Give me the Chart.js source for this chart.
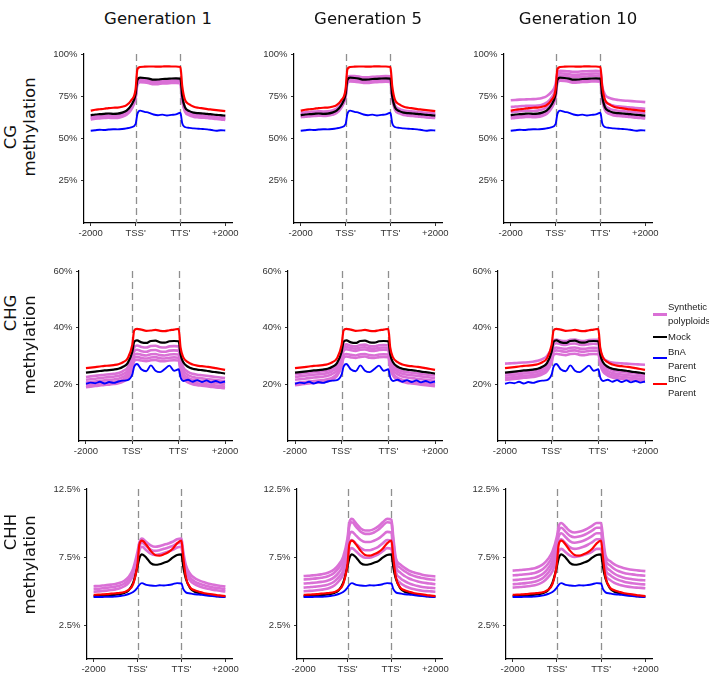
<!DOCTYPE html>
<html>
<head>
<meta charset="utf-8">
<script src="https://cdn.jsdelivr.net/npm/chart.js@4.4.0/dist/chart.umd.min.js"></script>
<style>
body { margin:0; width:709px; height:673px; overflow:hidden; background:#fff; position:relative; font-family:"DejaVu Sans", sans-serif; }
canvas { position:absolute; }
.title { position:absolute; font-size:16.5px; line-height:20px; color:#111; transform:translateX(-50%); white-space:nowrap; }
.rowlab { position:absolute; font-size:16.5px; line-height:20px; color:#111; transform:translate(-50%,-50%) rotate(-90deg); white-space:nowrap; }
.leg { position:absolute; font-family:"Liberation Sans", sans-serif; font-size:9.5px; line-height:14px; color:#222; white-space:nowrap; }
.key { position:absolute; width:14px; height:3px; }
</style>
</head>
<body>
<script>
// x positions: 0..10 upstream (-2000..TSS'), 10..20 scaled gene body, 20..30 downstream
const xPos = [0,1,2,3,4,5,6,7,8,9,10, 10.4, 11,12,13,14,15,16,17,18,19,20, 20.4, 21,22,23,24,25,26,27,28,29,30];
const xTickValues = [0, 10, 20, 30];
const xTickLabels = ['-2000', "TSS'", "TTS'", '+2000'];
const generations = ['Generation 1', 'Generation 5', 'Generation 10'];
const contexts = ['CG', 'CHG', 'CHH'];
const yMax = [100, 60, 12.5];
const yTicks = [[25, 50, 75, 100], [20, 40, 60], [2.5, 7.5, 12.5]];
const yTickLabels = [['25%', '50%', '75%', '100%'], ['20%', '40%', '60%'], ['2.5%', '7.5%', '12.5%']];
const seriesNames = ['Synthetic\npolyploids', 'Mock', 'BnA\nParent', 'BnC\nParent'];

// ---- CG ----
const cgMock = [63.8,64.2,64.4,64.6,64.8,64.6,64.7,65.3,66.5,69.5,76, 84.5, 86,85.8,85.4,84.8,84.9,85.2,85.3,85.5,85.6,85.4, 75, 68.5,66.2,65.3,65,64.8,64.6,64.3,64,63.8,63.5];
const cgBnA = [54.6,54.9,55.2,55,55.3,55.5,55.4,55.6,56,56.6,58.5, 64.5, 66.5,65.8,65.2,64.2,63.8,64.1,63.6,64,64.3,65.2, 59, 56.8,56.3,56,55.8,55.6,55.4,55,54.6,54.9,54.7];
const cgBnC = [66.5,67,67.3,67.6,68,68.2,68.3,68.8,69.8,72.5,79, 91, 92.3,92.5,92.6,92.6,92.5,92.6,92.7,92.6,92.6,92.3, 81, 73,70.2,68.8,68.2,67.8,67.4,67.1,66.8,66.5,66.2];
const cgSynGen1 = [
  [63.4,63.8,64,64.2,64.4,64.2,64.3,64.9,66.1,69.1,75.6, 84.1, 85.6,85.4,85,84.4,84.5,84.8,84.9,85.1,85.2,85, 74.6, 68.1,65.8,64.9,64.6,64.4,64.2,63.9,63.6,63.4,63.1],
  [62.7,63.1,63.3,63.5,63.7,63.5,63.6,64.2,65.4,68.4,75, 83.3, 84.7,84.5,84.1,83.5,83.6,83.9,84,84.2,84.3,84.1, 73.9, 67.4,65.1,64.2,63.9,63.7,63.5,63.2,62.9,62.7,62.4],
  [62,62.4,62.6,62.8,63,62.8,62.9,63.5,64.7,67.7,74.3, 82.6, 84,83.8,83.4,82.8,82.9,83.2,83.3,83.5,83.6,83.4, 73.2, 66.7,64.4,63.5,63.2,63,62.8,62.5,62.2,62,61.7],
  [61.3,61.7,61.9,62.1,62.3,62.1,62.2,62.8,64,67,73.6, 81.9, 83.3,83.1,82.7,82.1,82.2,82.5,82.6,82.8,82.9,82.7, 72.5, 66,63.7,62.8,62.5,62.3,62.1,61.8,61.5,61.3,61]
];
const cgSynGen5 = [
  [65.2,65.5,65.7,65.9,66.1,66,66.1,66.6,67.7,70.6,77, 85.6, 87,86.9,86.6,86.2,86.2,86.5,86.6,86.8,86.9,86.8, 76.5, 69.8,67.5,66.6,66.2,66,65.8,65.5,65.2,65,64.8],
  [64.5,64.8,65,65.2,65.4,65.3,65.4,65.9,67,69.9,76.2, 84.8, 86.2,86.1,85.8,85.4,85.4,85.7,85.8,86,86.1,86, 75.7, 69,66.7,65.8,65.4,65.2,65,64.7,64.4,64.2,64],
  [63.4,63.7,63.9,64.1,64.3,64.2,64.3,64.8,65.9,68.8,75.2, 83.5, 84.7,84.6,84.3,83.9,83.9,84.2,84.3,84.5,84.6,84.5, 74.5, 67.9,65.6,64.7,64.3,64.1,63.9,63.6,63.3,63.1,62.9],
  [62.6,62.9,63.1,63.3,63.5,63.4,63.5,64,65.1,68,74.4, 82.6, 83.7,83.6,83.3,82.9,82.9,83.2,83.3,83.5,83.6,83.5, 73.6, 67,64.8,63.9,63.5,63.3,63.1,62.8,62.5,62.3,62.1]
];
const cgSynGen10 = [
  [72.6,72.8,73,73.1,73.2,73.3,73.5,74,75,77.3,82, 88.8, 90,89.9,89.7,89.4,89.5,89.7,89.8,89.9,90,89.8, 81, 76,74,73.2,72.8,72.5,72.3,72.1,71.9,71.7,71.5],
  [68.6,68.9,69.1,69.2,69.4,69.3,69.5,70,71.2,73.8,79.5, 87.2, 88.6,88.4,88.1,87.7,87.8,88,88.2,88.4,88.5,88.3, 78.5, 72.5,70.3,69.4,69,68.7,68.5,68.3,68,67.8,67.6],
  [65.6,65.9,66.1,66.3,66.5,66.3,66.5,67.1,68.3,71.2,77.5, 85.8, 87.3,87.1,86.7,86.2,86.3,86.6,86.7,86.9,87,86.8, 76.5, 70,67.7,66.8,66.4,66.2,66,65.7,65.4,65.2,64.9],
  [63,63.4,63.6,63.8,64,63.8,63.9,64.5,65.7,68.7,75.3, 83.8, 85.2,85,84.6,84,84.1,84.4,84.5,84.7,84.8,84.6, 74.2, 67.8,65.5,64.6,64.3,64.1,63.9,63.6,63.3,63.1,62.8],
  [61.8,62.2,62.4,62.6,62.8,62.6,62.7,63.3,64.5,67.5,74.2, 82.8, 84.2,84,83.6,83,83.1,83.4,83.5,83.7,83.8,83.6, 73.2, 66.8,64.5,63.6,63.3,63.1,62.9,62.6,62.3,62.1,61.8]
];

// ---- CHG ----
const chgMock = [24.1,24.3,24.5,24.7,24.9,25,25.2,25.5,26.2,27.5,31.5, 35, 35.5,34.8,34.6,35.3,35.4,34.8,34.7,35.2,35.3,35.2, 30.5, 27.8,26.2,25.5,25.2,25,24.8,24.5,24.3,24.1,23.8];
const chgBnA = [20.2,20.6,20.4,20.9,20.3,20.8,20.5,21,21.3,21.5,23.5, 26.2, 27.2,25.2,24.6,26.7,24.8,24.3,25.4,26.6,24.8,25.3, 22.5, 21.2,21.6,20.9,21.5,20.8,21.4,20.7,21.2,20.6,21];
const chgBnC = [25.7,25.9,26.1,26.3,26.5,26.6,26.8,27.1,27.8,29.2,34, 39, 39.6,39.3,38.9,39,39.2,38.9,38.8,39.1,39.3,39.6, 33, 29.5,27.8,27,26.6,26.4,26.2,26,25.7,25.4,25.1];
const chgSynGen1 = [
  [22.6,22.8,23,23.2,23.4,23.5,23.7,24,24.7,26,30, 33, 33.7,33.2,33,33.5,33.6,33.1,33,33.4,33.5,33.4, 29, 26,24.4,23.7,23.4,23.2,23,22.8,22.6,22.4,22.2],
  [21.6,21.8,22,22.2,22.4,22.5,22.7,23,23.6,24.9,28.8, 31.6, 32.2,31.7,31.5,32,32.1,31.6,31.5,31.9,32,31.9, 27.8, 24.9,23.3,22.6,22.3,22.1,21.9,21.7,21.5,21.3,21.1],
  [20.6,20.8,21,21.2,21.4,21.5,21.7,22,22.6,23.8,27.6, 30.3, 30.8,30.4,30.2,30.6,30.7,30.3,30.2,30.5,30.6,30.5, 26.6, 23.8,22.3,21.6,21.3,21.1,20.9,20.7,20.5,20.3,20.1],
  [19.7,19.9,20.1,20.3,20.5,20.6,20.8,21.1,21.7,22.9,26.6, 29.3, 29.7,29.3,29.1,29.5,29.6,29.2,29.1,29.4,29.5,29.4, 25.6, 22.9,21.4,20.7,20.4,20.2,20,19.8,19.6,19.4,19.2],
  [19,19.2,19.4,19.6,19.8,19.9,20.1,20.4,21,22.1,25.7, 28.3, 28.7,28.4,28.2,28.5,28.6,28.2,28.2,28.4,28.5,28.4, 24.8, 22.1,20.7,20,19.7,19.5,19.3,19.1,18.9,18.8,18.6]
];
const chgSynGen5 = [
  [23.5,23.7,23.9,24.1,24.3,24.4,24.6,24.9,25.6,26.9,30.5, 33.5, 34.1,33.6,33.4,33.9,34,33.5,33.4,33.8,33.9,33.8, 29.5, 26.8,25.3,24.6,24.3,24.1,23.9,23.7,23.5,23.3,23.1],
  [22.6,22.8,23,23.2,23.4,23.5,23.7,24,24.7,26,29.6, 32.6, 33.2,32.8,32.6,33,33.1,32.7,32.6,32.9,33,32.9, 28.7, 26,24.5,23.7,23.4,23.2,23,22.8,22.6,22.4,22.2],
  [21.6,21.8,22,22.2,22.4,22.5,22.7,23,23.7,25,28.7, 31.8, 32.4,32,31.8,32.2,32.3,31.9,31.8,32.1,32.2,32.1, 27.9, 25.1,23.5,22.8,22.4,22.2,22,21.8,21.6,21.4,21.2],
  [20.4,20.6,20.8,21,21.2,21.3,21.5,21.8,22.4,23.7,27.2, 30.2, 30.7,30.4,30.2,30.6,30.7,30.3,30.2,30.5,30.6,30.5, 26.6, 23.9,22.3,21.6,21.2,21,20.8,20.6,20.4,20.2,20],
  [19.7,19.9,20.1,20.3,20.5,20.6,20.8,21.1,21.7,22.9,26.4, 29.3, 29.8,29.5,29.3,29.7,29.8,29.4,29.3,29.6,29.7,29.6, 25.8, 23.1,21.6,20.9,20.5,20.3,20.1,19.9,19.7,19.5,19.3]
];
const chgSynGen10 = [
  [27.3,27.4,27.5,27.6,27.7,27.8,28,28.3,28.9,30,32.8, 35.2, 35.8,35.4,35.3,35.7,35.8,35.4,35.3,35.6,35.7,35.7, 31.8, 29.4,28.2,27.7,27.5,27.4,27.3,27.2,27.1,27,26.9],
  [23.8,24,24.2,24.4,24.6,24.7,24.9,25.2,25.9,27.2,30.8, 33.9, 34.5,34.1,33.9,34.3,34.4,34,33.9,34.2,34.3,34.2, 29.9, 27.1,25.6,24.9,24.6,24.4,24.2,24,23.8,23.6,23.5],
  [23,23.2,23.4,23.6,23.8,23.9,24.1,24.4,25.1,26.3,29.7, 32.5, 33,32.7,32.5,32.9,33,32.6,32.5,32.8,32.9,32.8, 28.8, 26.2,24.7,24,23.7,23.5,23.3,23.1,22.9,22.8,22.7],
  [22.2,22.4,22.6,22.8,23,23.1,23.3,23.6,24.2,25.4,28.8, 31.5, 32,31.7,31.5,31.9,32,31.6,31.5,31.8,31.9,31.8, 27.9, 25.3,23.9,23.2,22.9,22.7,22.5,22.3,22.1,22,21.9],
  [21.5,21.7,21.9,22.1,22.3,22.4,22.6,22.9,23.5,24.6,27.8, 30.4, 30.8,30.5,30.3,30.7,30.8,30.4,30.3,30.6,30.7,30.6, 27, 24.5,23.1,22.4,22.1,21.9,21.7,21.5,21.3,21.2,21.1]
];

// ---- CHH ----
const chhMock = [4.62,4.63,4.65,4.67,4.7,4.73,4.78,4.86,5.05,5.6,6.8, 7.4, 7.7,7.45,7.05,6.93,6.97,7.08,7.2,7.45,7.65,7.7, 6.8, 5.9,5.2,4.95,4.85,4.76,4.7,4.66,4.63,4.6,4.58];
const chhBnA = [4.55,4.56,4.56,4.58,4.58,4.6,4.63,4.68,4.78,4.92,5.25, 5.45, 5.58,5.45,5.4,5.38,5.42,5.4,5.44,5.5,5.58,5.55, 5.15, 4.9,4.82,4.76,4.74,4.7,4.66,4.63,4.6,4.57,4.55];
const chhBnC = [4.72,4.73,4.75,4.77,4.8,4.83,4.86,4.93,5.08,5.5,7, 8.4, 8.7,8.4,7.95,7.65,7.6,7.7,7.85,8.1,8.5,8.7, 7.5, 6,5.25,5.05,4.95,4.85,4.8,4.75,4.7,4.66,4.62];
const chhSynGen1 = [
  [5.35,5.37,5.4,5.43,5.47,5.52,5.6,5.75,6.05,6.65,7.9, 8.55, 8.85,8.6,8.35,8.25,8.3,8.4,8.5,8.62,8.8,8.85, 7.9, 6.9,6.25,5.95,5.78,5.66,5.56,5.48,5.42,5.37,5.32],
  [5.15,5.17,5.2,5.23,5.27,5.32,5.4,5.55,5.85,6.4,7.6, 8.25, 8.55,8.3,8.05,7.95,8,8.1,8.2,8.32,8.5,8.55, 7.6, 6.6,5.98,5.7,5.55,5.44,5.35,5.28,5.23,5.18,5.13],
  [4.95,4.97,5,5.03,5.07,5.12,5.2,5.35,5.62,6.15,7.3, 7.95, 8.25,8,7.75,7.65,7.7,7.8,7.9,8.02,8.2,8.25, 7.3, 6.35,5.75,5.5,5.35,5.24,5.16,5.1,5.05,5,4.96]
];
const chhSynGen5 = [
  [6.1,6.12,6.15,6.18,6.22,6.28,6.4,6.6,6.95,7.5,8.9, 10, 10.3,9.95,9.6,9.45,9.45,9.55,9.75,10.05,10.3,10.25, 9, 7.4,6.95,6.7,6.5,6.38,6.28,6.2,6.14,6.1,6.07],
  [5.85,5.87,5.9,5.93,5.97,6.03,6.15,6.35,6.7,7.25,8.6, 9.75, 10.05,9.7,9.35,9.2,9.2,9.3,9.5,9.8,10.05,10, 8.7, 7.15,6.7,6.45,6.25,6.12,6.02,5.95,5.89,5.85,5.82],
  [5.55,5.57,5.6,5.63,5.67,5.72,5.83,6.02,6.35,6.9,8.2, 9.1, 9.35,9.05,8.75,8.6,8.6,8.7,8.85,9.1,9.35,9.3, 8.1, 6.8,6.35,6.1,5.92,5.8,5.7,5.63,5.58,5.54,5.5],
  [5.25,5.27,5.3,5.33,5.37,5.42,5.52,5.7,6.02,6.5,7.8, 8.5, 8.75,8.45,8.15,8,8,8.1,8.25,8.5,8.75,8.7, 7.6, 6.4,5.95,5.72,5.56,5.45,5.36,5.3,5.26,5.23,5.2],
  [4.98,5,5.02,5.05,5.09,5.14,5.24,5.41,5.72,6.2,7.3, 7.95, 8.15,7.9,7.6,7.45,7.45,7.55,7.7,7.92,8.15,8.1, 7.1, 6,5.6,5.38,5.24,5.14,5.07,5.02,4.99,4.97,4.95]
];
const chhSynGen10 = [
  [6.5,6.52,6.55,6.58,6.62,6.68,6.8,7,7.35,7.9,9, 9.75, 10,9.7,9.4,9.3,9.35,9.45,9.6,9.8,10,10, 9, 7.6,7.2,6.95,6.8,6.7,6.62,6.56,6.52,6.49,6.46],
  [6.15,6.17,6.2,6.23,6.27,6.33,6.45,6.65,7,7.55,8.7, 9.4, 9.65,9.35,9.05,8.95,9,9.1,9.25,9.45,9.65,9.65, 8.65, 7.3,6.88,6.62,6.45,6.35,6.27,6.22,6.18,6.15,6.12],
  [5.8,5.82,5.85,5.88,5.92,5.98,6.1,6.3,6.65,7.2,8.35, 9, 9.25,8.95,8.65,8.55,8.6,8.7,8.85,9.05,9.25,9.25, 8.3, 6.95,6.52,6.27,6.1,6,5.92,5.87,5.83,5.8,5.78],
  [5.5,5.52,5.55,5.58,5.62,5.68,5.8,6,6.33,6.85,7.95, 8.6, 8.8,8.5,8.2,8.1,8.15,8.25,8.4,8.6,8.8,8.8, 7.9, 6.6,6.18,5.95,5.8,5.7,5.62,5.57,5.53,5.5,5.48],
  [5.25,5.27,5.3,5.33,5.37,5.42,5.52,5.7,6,6.45,7.4, 7.9, 8.1,7.85,7.6,7.5,7.55,7.65,7.75,7.9,8.1,8.1, 7.3, 6.2,5.82,5.6,5.47,5.38,5.32,5.28,5.25,5.23,5.2]
];

const mockByRow = [cgMock, chgMock, chhMock];
const bnaByRow = [cgBnA, chgBnA, chhBnA];
const bncByRow = [cgBnC, chgBnC, chhBnC];
const synByRow = [
  [cgSynGen1, cgSynGen5, cgSynGen10],
  [chgSynGen1, chgSynGen5, chgSynGen10],
  [chhSynGen1, chhSynGen5, chhSynGen10]
];

const colors = { syn: '#DA70D6', mock: '#000000', bna: '#0000FF', bnc: '#FF0000' };

// panel placement (chart area edges, px)
const rowTop = [54, 271, 489];
const rowBottom = [223, 441, 659];
const rowLeft = [[84, 294, 504], [79, 288, 498], [87, 297, 506]];
const colRight = [232, 442, 652];
const YW = 44, PADT = 12, PADR = 34, XH = 26;

Chart.defaults.font.family = '"Liberation Sans", Arial, sans-serif';
Chart.defaults.font.size = 9.5;

// dashed TSS'/TTS' markers
const bodyEdges = {
  id: 'bodyEdges',
  beforeDatasetsDraw(chart) {
    const { ctx, chartArea, scales } = chart;
    ctx.save();
    ctx.strokeStyle = '#8f8f8f';
    ctx.lineWidth = 1.3;
    ctx.setLineDash([7, 4]);
    [xTickValues[1], xTickValues[2]].forEach(v => {
      const x = Math.round(scales.x.getPixelForValue(v)) + 0.5;
      ctx.beginPath();
      ctx.moveTo(x, chartArea.top);
      ctx.lineTo(x, chartArea.bottom);
      ctx.stroke();
    });
    ctx.restore();
  }
};

function toPoints(arr) {
  if (arr.length !== xPos.length) throw new Error('bad series length ' + arr.length);
  return xPos.map((x, i) => ({ x: x, y: arr[i] }));
}

function line(arr, color, width) {
  return {
    data: toPoints(arr),
    borderColor: color,
    borderWidth: width,
    pointRadius: 0,
    fill: false,
    cubicInterpolationMode: 'monotone'
  };
}

function makePanel(r, c) {
  const L = rowLeft[r][c], R = colRight[c], T = rowTop[r], B = rowBottom[r];
  const cv = document.createElement('canvas');
  cv.width = YW + (R - L) + PADR;
  cv.height = PADT + (B - T) + XH;
  cv.style.left = (L - YW) + 'px';
  cv.style.top = (T - PADT) + 'px';
  document.body.appendChild(cv);

  // first dataset is drawn on top
  const datasets = [
    line(bncByRow[r], colors.bnc, 2.2),
    line(bnaByRow[r], colors.bna, 1.9),
    line(mockByRow[r], colors.mock, 2.2)
  ];
  synByRow[r][c].forEach(s => datasets.push(line(s, colors.syn, 2.6)));

  new Chart(cv, {
    type: 'line',
    data: { datasets },
    options: {
      responsive: false,
      animation: false,
      events: [],
      layout: { padding: { top: PADT, right: PADR, left: 0, bottom: 0 } },
      plugins: { legend: { display: false }, tooltip: { enabled: false } },
      scales: {
        x: {
          type: 'linear',
          min: -1.5,
          max: 31.5,
          afterBuildTicks: s => { s.ticks = xTickValues.map(v => ({ value: v })); },
          afterFit: s => { s.height = XH; s.paddingLeft = 0; s.paddingRight = 0; },
          ticks: {
            autoSkip: false, maxRotation: 0, padding: 2, color: '#333',
            callback: (v, i) => xTickLabels[i]
          },
          grid: { drawOnChartArea: false, tickLength: 3, tickColor: '#333', tickWidth: 1 },
          border: { color: '#000', width: 1.2 }
        },
        y: {
          min: 0,
          max: yMax[r],
          afterBuildTicks: s => { s.ticks = yTicks[r].map(v => ({ value: v })); },
          afterFit: s => { s.width = YW; s.paddingTop = 0; s.paddingBottom = 0; },
          ticks: {
            autoSkip: false, padding: 3.5, color: '#333',
            callback: (v, i) => yTickLabels[r][i]
          },
          grid: { drawOnChartArea: false, tickLength: 3, tickColor: '#333', tickWidth: 1 },
          border: { color: '#000', width: 1.2 }
        }
      }
    },
    plugins: [bodyEdges]
  });
}

for (let r = 0; r < 3; r++) for (let c = 0; c < 3; c++) makePanel(r, c);

// column titles
const titleX = [158, 368, 578];
generations.forEach((g, c) => {
  const d = document.createElement('div');
  d.className = 'title';
  d.textContent = g;
  d.style.left = titleX[c] + 'px';
  d.style.top = '9px';
  document.body.appendChild(d);
});

// row labels (two rotated lines each)
const rowLabelPos = [
  [[11, 137], [30, 127]],
  [[11, 313], [30, 345]],
  [[11, 532], [30, 565]]
];
contexts.forEach((ctxName, r) => {
  [ctxName, 'methylation'].forEach((txt, k) => {
    const d = document.createElement('div');
    d.className = 'rowlab';
    d.textContent = txt;
    d.style.left = rowLabelPos[r][k][0] + 'px';
    d.style.top = rowLabelPos[r][k][1] + 'px';
    document.body.appendChild(d);
  });
});

// legend
const legendKeyY = [314, 337, 358, 384];
const legendTextY = [300, 330, 345, 372];
const legendColors = [colors.syn, colors.mock, colors.bna, colors.bnc];
const legendKeyH = [3, 2.5, 2.5, 2.5];
seriesNames.forEach((name, i) => {
  const k = document.createElement('div');
  k.className = 'key';
  k.style.left = '653px';
  k.style.height = legendKeyH[i] + 'px';
  k.style.top = (legendKeyY[i] - legendKeyH[i] / 2) + 'px';
  k.style.background = legendColors[i];
  document.body.appendChild(k);
  const t = document.createElement('div');
  t.className = 'leg';
  t.style.left = '668px';
  t.style.top = legendTextY[i] + 'px';
  t.innerHTML = name.split('\n').join('<br>');
  document.body.appendChild(t);
});
</script>
</body>
</html>
